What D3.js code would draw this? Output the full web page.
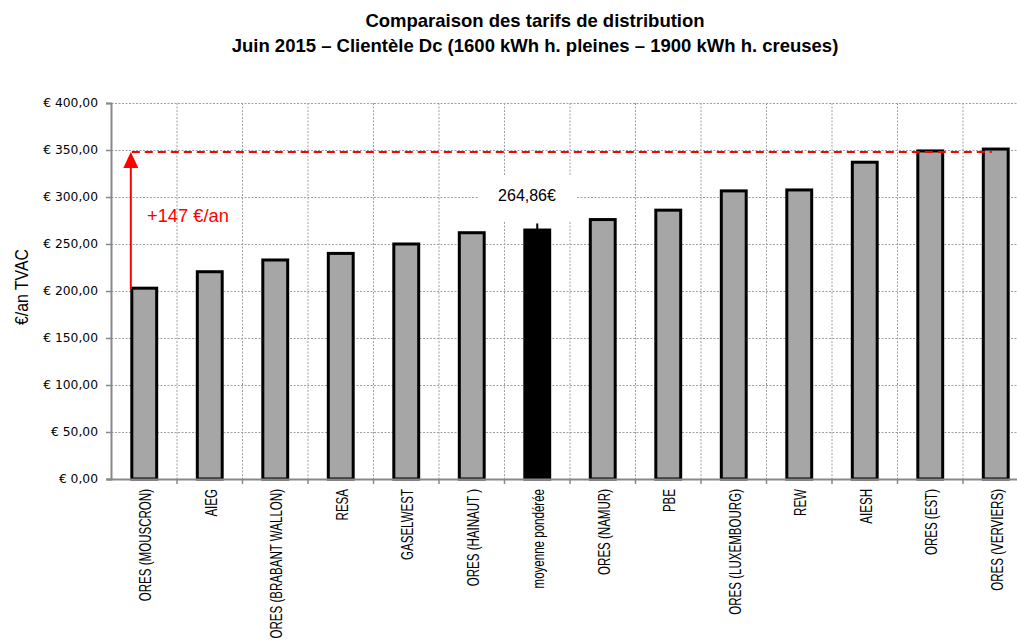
<!DOCTYPE html>
<html>
<head>
<meta charset="utf-8">
<script src="https://cdn.jsdelivr.net/npm/d3@7"></script>
<style>
  html, body { margin: 0; padding: 0; background: #fff; }
  svg { display: block; }
</style>
</head>
<body>
<svg id="chart" width="1017" height="641"></svg>
<script>
const titleLines = [
  "Comparaison des tarifs de distribution",
  "Juin 2015 – Clientèle Dc (1600 kWh h. pleines – 1900 kWh h. creuses)"
];
const categories = [
  "ORES (MOUSCRON)", "AIEG", "ORES (BRABANT WALLON)", "RESA", "GASELWEST",
  "ORES (HAINAUT )", "moyenne pondérée", "ORES (NAMUR)", "PBE",
  "ORES (LUXEMBOURG)", "REW", "AIESH", "ORES (EST)", "ORES (VERVIERS)"
];
const values = [203, 220.5, 233, 240, 250, 262, 264.86, 276, 286, 306.5, 307.5, 337, 349, 351];
const highlight = ["moyenne pondérée"];
const errorPlus = [0, 0, 0, 0, 0, 0, 7, 0, 0, 0, 0, 0, 0, 0];
const yTicks = [0, 50, 100, 150, 200, 250, 300, 350, 400];
const yAxisLabel = "€/an TVAC";
const referenceValue = 348;
const gapLabel = "+147 €/an";
const averageLabel = "264,86€";

const svg = d3.select("#chart");
const x0 = 111.5, step = 65.5;
const x = d3.scaleBand().domain(categories)
  .range([x0, x0 + step * categories.length])
  .paddingInner(0.62).paddingOuter(0.31);
const y = d3.scaleLinear().domain([0, 400]).range([479, 103]);
const plotRight = x0 + step * categories.length;

// Title
svg.append("g").selectAll("text").data(titleLines).join("text")
  .attr("x", 535).attr("y", (d, i) => 27 + i * 25)
  .attr("text-anchor", "middle")
  .style("font-family", "Liberation Sans, Arial, sans-serif")
  .style("font-weight", "bold").style("font-size", "18.5px")
  .text(d => d);

// Gridlines horizontal
svg.append("g").selectAll("line").data(yTicks.filter(d => d > 0)).join("line")
  .attr("x1", x0).attr("x2", plotRight)
  .attr("y1", d => y(d) + 0.5).attr("y2", d => y(d) + 0.5)
  .attr("stroke", "#a0a0a0").attr("stroke-width", 1)
  .attr("stroke-dasharray", "2,1.5");

// Gridlines vertical (category boundaries)
const bounds = d3.range(1, categories.length + 1).map(i => x0 + i * step);
svg.append("g").selectAll("line").data(bounds).join("line")
  .attr("x1", d => d).attr("x2", d => d)
  .attr("y1", y(400)).attr("y2", y(0))
  .attr("stroke", "#a0a0a0").attr("stroke-width", 1)
  .attr("stroke-dasharray", "2,1.5");

// White label background for average label
svg.append("rect").attr("x", 478).attr("y", 176).attr("width", 99).attr("height", 46)
  .attr("fill", "#fff");

// Bars
svg.append("g").selectAll("rect").data(categories).join("rect")
  .attr("x", d => x(d)).attr("width", x.bandwidth())
  .attr("y", (d, i) => y(values[i])).attr("height", (d, i) => y(0) - y(values[i]))
  .attr("fill", d => highlight.includes(d) ? "#000" : "#a6a6a6")
  .attr("stroke", "#000").attr("stroke-width", 3);

// Error bar on average
svg.append("g").selectAll("line").data(categories.filter((d, i) => errorPlus[i] > 0)).join("line")
  .attr("x1", d => x(d) + x.bandwidth() / 2).attr("x2", d => x(d) + x.bandwidth() / 2)
  .attr("y1", d => y(values[categories.indexOf(d)]))
  .attr("y2", d => y(values[categories.indexOf(d)] + errorPlus[categories.indexOf(d)]))
  .attr("stroke", "#000").attr("stroke-width", 2);

// Y axis
const yAxis = d3.axisLeft(y).tickValues(yTicks).tickSize(5).tickPadding(8)
  .tickFormat(d => "€ " + d3.format(".2f")(d).replace(".", ","));
const gy = svg.append("g").attr("transform", `translate(${x0 - 0.5},0)`).call(yAxis);
gy.select(".domain").attr("stroke", "#888").attr("stroke-width", 2);
gy.selectAll(".tick line").attr("stroke", "#888").attr("stroke-width", 1.5);
gy.selectAll(".tick text")
  .style("font-family", "DejaVu Sans, Verdana, sans-serif").style("font-size", "12.3px")
  .attr("fill", "#000");

// X axis
svg.append("line").attr("x1", x0 - 4).attr("x2", plotRight)
  .attr("y1", y(0) + 0.5).attr("y2", y(0) + 0.5)
  .attr("stroke", "#888").attr("stroke-width", 2);
svg.append("g").selectAll("line").data(bounds).join("line")
  .attr("x1", d => d).attr("x2", d => d).attr("y1", y(0)).attr("y2", y(0) + 5)
  .attr("stroke", "#888").attr("stroke-width", 1.5);

// X labels (condensed)
svg.append("g").selectAll("text").data(categories).join("text")
  .attr("transform", d => `translate(${x(d) + x.bandwidth() / 2 + 1},489) rotate(-90) scale(0.68,1)`)
  .attr("text-anchor", "end").attr("dominant-baseline", "central")
  .style("font-family", "Liberation Sans, Arial, sans-serif").style("font-size", "17px")
  .text(d => d);

// Y axis label
svg.append("text")
  .attr("transform", "translate(22,287) rotate(-90) scale(0.88,1)")
  .attr("text-anchor", "middle").attr("dominant-baseline", "central")
  .style("font-family", "Liberation Sans, Arial, sans-serif").style("font-size", "18px")
  .text(yAxisLabel);

// Reference dashed line
const firstX = x(categories[0]);
const lastX = x(categories[categories.length - 1]) + x.bandwidth() / 2 - 4;
svg.append("line").attr("x1", firstX).attr("x2", lastX)
  .attr("y1", y(referenceValue)).attr("y2", y(referenceValue))
  .attr("stroke", "#ff0000").attr("stroke-width", 2).attr("stroke-dasharray", "8,5");

// Arrow
const ax = firstX - 1;
svg.append("line").attr("x1", ax).attr("x2", ax)
  .attr("y1", y(values[0]) + 1).attr("y2", y(referenceValue) + 14)
  .attr("stroke", "#ff0000").attr("stroke-width", 2);
svg.append("path")
  .attr("d", `M${ax},${y(referenceValue)} L${ax - 7.5},${y(referenceValue) + 16} L${ax + 7.5},${y(referenceValue) + 16} Z`)
  .attr("fill", "#ff0000");

svg.append("text").attr("x", 147).attr("y", 222)
  .style("font-family", "Liberation Sans, Arial, sans-serif").style("font-size", "18.3px")
  .attr("fill", "#ff0000").text(gapLabel);

svg.append("text").attr("x", 527).attr("y", 201).attr("text-anchor", "middle")
  .style("font-family", "Liberation Sans, Arial, sans-serif").style("font-size", "16px")
  .attr("fill", "#000").text(averageLabel);
</script>
</body>
</html>
